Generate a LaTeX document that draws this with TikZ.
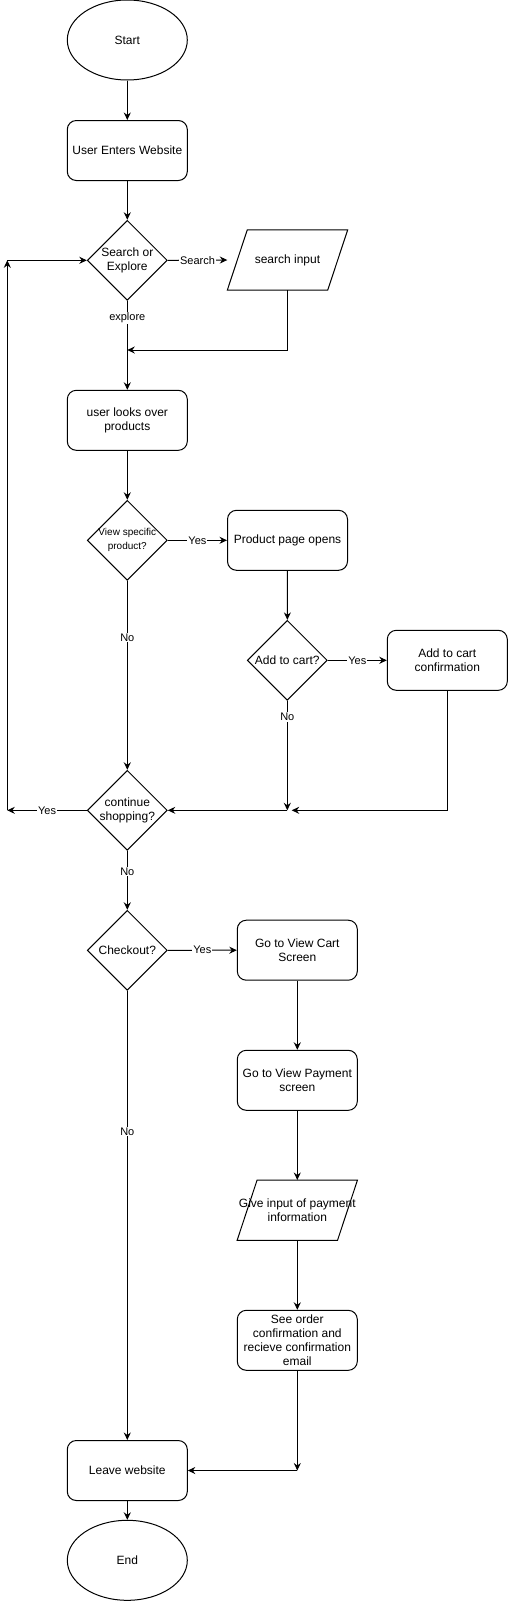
\documentclass[tikz,border=0pt]{standalone}
\usepackage{fontspec}
\setmainfont{Liberation Sans}
\usetikzlibrary{shapes.geometric,arrows.meta}
\begin{document}
\begin{tikzpicture}[x=1pt,y=-1pt,
  base/.style={draw=black, line width=1pt, inner sep=0pt, align=center, font=\fontsize{12}{14}\selectfont},
  rbox/.style={base, rectangle, rounded corners=9pt, minimum width=120pt, minimum height=60pt},
  oval/.style={base, ellipse, minimum width=120pt, minimum height=80pt},
  dia/.style={base, diamond, minimum width=80pt, minimum height=80pt},
  ptxt/.style={inner sep=0pt, align=center, font=\fontsize{12}{14}\selectfont, minimum width=120pt, minimum height=60pt},
  dlab/.style={inner sep=0pt, align=center, font=\fontsize{12}{14}\selectfont},
  arr/.style={line width=1pt, -{Stealth[length=7.5pt,width=7pt,inset=2.5pt]}},
  ln/.style={line width=1pt},
  elab/.style={fill=white, inner sep=1pt, font=\fontsize{11}{12}\selectfont}
]
\useasboundingbox (0,0) rectangle (508,1601);
\fill[white] (0,0) rectangle (508,1601);

% nodes
\node[oval] (start) at (127.3,40) {Start};
\node[rbox] (uew) at (127.3,150.5) {User Enters Website};
\node[dia, label={[dlab]center:Search or\\Explore}] (se) at (127.3,260.3) {};
\node[ptxt] (si) at (287.5,260) {search input};
\draw[ln] ([xshift=20pt]si.north west) -- (si.north east) -- ([xshift=-20pt]si.south east) -- (si.south west) -- cycle;
\node[rbox] (ulo) at (127.3,420.3) {user looks over\\products};
\node[dia, label={[dlab, font=\fontsize{10}{14}\selectfont]center:View specific\\product?}] (vsp) at (127.3,540.3) {};
\node[rbox] (ppo) at (287.5,540.3) {Product page opens};
\node[dia, label={[dlab]center:Add to cart?}] (atc) at (287.3,660.3) {};
\node[rbox] (atcc) at (447.3,660.3) {Add to cart\\confirmation};
\node[dia, label={[dlab]center:continue\\shopping?}] (cs) at (127.3,810.3) {};
\node[dia, label={[dlab]center:Checkout?}] (co) at (127.3,950.3) {};
\node[rbox] (gvc) at (297.3,950.2) {Go to View Cart\\Screen};
\node[rbox] (gvp) at (297.3,1080.3) {Go to View Payment\\screen};
\node[ptxt] (gip) at (297.3,1210.2) {Give input of payment\\information};
\draw[ln] ([xshift=20pt]gip.north west) -- (gip.north east) -- ([xshift=-20pt]gip.south east) -- (gip.south west) -- cycle;
\node[rbox] (soc) at (297.3,1340.3) {See order\\confirmation and\\recieve confirmation\\email};
\node[rbox] (lw) at (127.3,1470.5) {Leave website};
\node[oval] (end) at (127.3,1560.3) {End};

% junction coordinates
\coordinate (j1) at (127.3,350);
\coordinate (j2) at (287.3,810.3);
\coordinate (j3) at (291.7,810.3);
\coordinate (j4) at (7.3,810.3);
\coordinate (j6) at (7.3,260.3);
\coordinate (j7) at (297.3,1470.5);

% connectors
\draw[arr] (start) -- (uew);
\draw[arr] (uew) -- (se);
\draw[arr] (se.east) -- node[elab] {Search} (si.west);
\draw[arr] (si.south) |- (j1);
\draw[arr] (se.south) -- node[elab, pos=0.19] {explore} (ulo.north);
\draw[arr] (ulo) -- (vsp);
\draw[arr] (vsp.east) -- node[elab] {Yes} (ppo.west);
\draw[arr] (ppo) -- (atc);
\draw[arr] (atc.east) -- node[elab] {Yes} (atcc.west);
\draw[arr] (atc.south) -- node[elab, pos=0.145] {No} (j2);
\draw[arr] (j2) -- (cs.east);
\draw[arr] (atcc.south) |- (j3);
\draw[arr] (vsp.south) -- node[elab, pos=0.3] {No} (cs.north);
\draw[arr] (cs.west) -- node[elab] {Yes} (j4);
\draw[arr] (j4) -- (j6);
\draw[arr] (j6) -- (se.west);
\draw[arr] (cs.south) -- node[elab, pos=0.35] {No} (co.north);
\draw[arr] (co.east) -- node[elab] {Yes} (gvc.west);
\draw[arr] (gvc) -- (gvp);
\draw[arr] (gvp) -- (gip);
\draw[arr] (gip) -- (soc);
\draw[arr] (co.south) -- node[elab, pos=0.313] {No} (lw.north);
\draw[arr] (soc.south) -- (j7);
\draw[arr] (j7) -- (lw.east);
\draw[arr] (lw) -- (end);
\end{tikzpicture}
\end{document}
